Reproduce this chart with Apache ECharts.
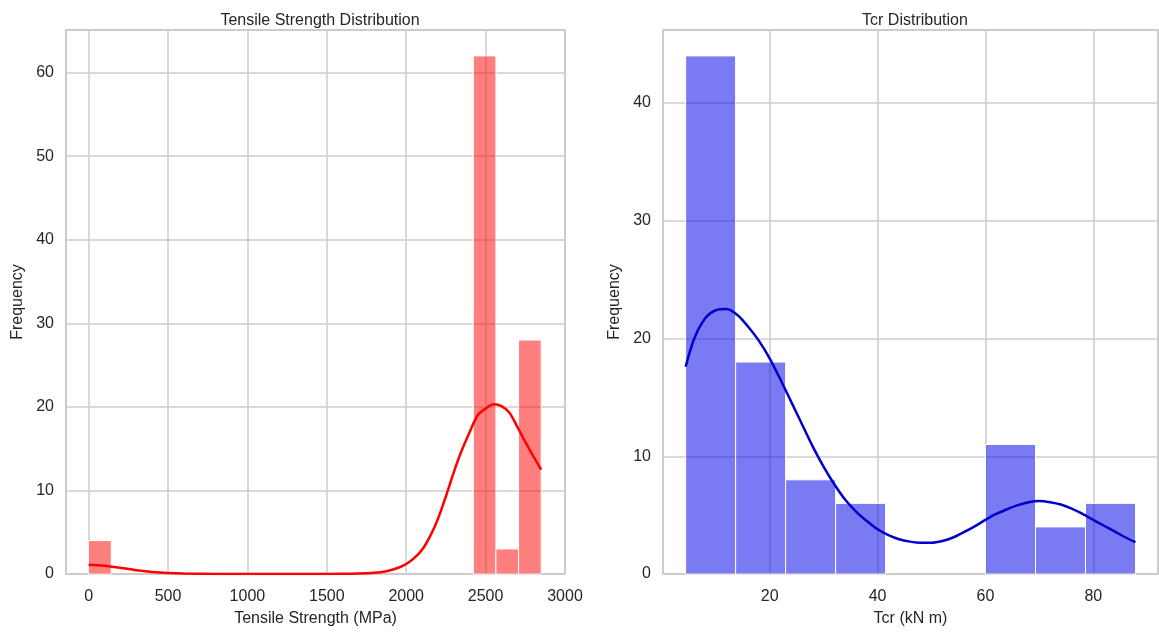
<!DOCTYPE html>
<html>
<head>
<meta charset="utf-8">
<title>Tensile Strength / Tcr Distribution</title>
<script src="https://cdn.jsdelivr.net/npm/echarts@6/dist/echarts.min.js"></script>
<style>
	html, body { margin: 0; padding: 0; background: #ffffff; }
	#chart { width: 1159px; height: 633px; }
</style>
</head>
<body>
<div id="chart"></div>
<script>
// 抗拉强度直方图 (20 bins)
var tsBinEdges = [0, 142.5, 285, 427.5, 570, 712.5, 855, 997.5, 1140, 1282.5, 1425,
	1567.5, 1710, 1852.5, 1995, 2137.5, 2280, 2422.5, 2565, 2707.5, 2850];
var tsCounts = [4, 0, 0, 0, 0, 0, 0, 0, 0, 0, 0, 0, 0, 0, 0, 0, 0, 62, 3, 28];
// 抗拉强度 KDE 曲线
var tsKdeX = [0, 100, 200, 300, 400, 500, 600, 800, 1000, 1200, 1400, 1600, 1700, 1800, 1850,
	1900, 1950, 2000, 2050, 2100, 2150, 2200, 2250, 2300, 2350, 2400, 2450, 2500, 2550,
	2600, 2650, 2700, 2750, 2800, 2850];
var tsKdeY = [1.1, 1.0, 0.75, 0.45, 0.25, 0.12, 0.05, 0.01, 0, 0, 0, 0.02, 0.06, 0.15, 0.25,
	0.45, 0.75, 1.2, 1.9, 2.9, 4.5, 6.6, 9.3, 12.2, 14.8, 17.0, 19.0, 19.8, 20.3,
	20.1, 19.3, 17.6, 15.8, 14.1, 12.5];
var tsTicks = [0, 500, 1000, 1500, 2000, 2500, 3000];

// Tcr 直方图 (9 bins)
var tcrBinEdges = [4.4, 13.67, 22.94, 32.21, 41.48, 50.75, 60.02, 69.29, 78.56, 87.83];
var tcrCounts = [44, 18, 8, 6, 0, 0, 11, 4, 6];
// Tcr KDE 曲线
var tcrKdeX = [4.4, 6, 8, 10, 12, 14, 16, 18, 20, 22, 24, 26, 28, 30, 32, 34, 36, 38, 40, 42,
	44, 46, 48, 50, 52, 54, 56, 58, 60, 62, 64, 66, 68, 70, 72, 74, 76, 78, 80, 82, 84, 86, 87.83];
var tcrKdeY = [17.6, 20.0, 21.7, 22.4, 22.5, 22.0, 21.0, 19.8, 18.3, 16.5, 14.6, 12.7, 10.8, 9.1,
	7.6, 6.3, 5.3, 4.5, 3.8, 3.3, 2.95, 2.75, 2.65, 2.65, 2.8, 3.1, 3.55, 4.05, 4.6, 5.1, 5.5, 5.85,
	6.1, 6.2, 6.1, 5.9, 5.55, 5.1, 4.6, 4.1, 3.6, 3.1, 2.7];
var tcrTicks = [20, 40, 60, 80];

var FONT = '"Liberation Sans", Arial, sans-serif';
var TEXT_COLOR = '#262626';
var GRID_COLOR = '#cccccc';

function binData(edges, counts) {
	var out = [];
	for (var i = 0; i < counts.length; i++) {
		if (counts[i] > 0) {
			out.push([edges[i], edges[i + 1], counts[i]]);
		}
	}
	return out;
}

function pairs(xs, ys) {
	return xs.map(function(x, i) {
		return [x, ys[i]];
	});
}

function histRender(fill) {
	return function(params, api) {
		var topLeft = api.coord([api.value(0), api.value(2)]);
		var bottomRight = api.coord([api.value(1), 0]);
		return {
			type : 'rect',
			shape : {
				x : topLeft[0],
				y : topLeft[1],
				width : bottomRight[0] - topLeft[0],
				height : bottomRight[1] - topLeft[1]
			},
			style : {
				fill : fill,
				stroke : '#ffffff',
				lineWidth : 1
			}
		};
	};
}

function xAxisOpt(idx, name, min, max, ticks) {
	return {
		type : 'value',
		gridIndex : idx,
		min : min,
		max : max,
		name : name,
		nameLocation : 'middle',
		nameGap : 37,
		nameTextStyle : { fontFamily : FONT, fontSize : 16, color : TEXT_COLOR },
		axisLine : { show : false },
		axisTick : { show : false, customValues : ticks },
		axisLabel : {
			customValues : ticks,
			margin : 15,
			fontFamily : FONT,
			fontSize : 16,
			color : TEXT_COLOR,
			formatter : function(v) { return String(v); }
		},
		splitLine : { show : true, lineStyle : { color : GRID_COLOR, width : 1.5 } }
	};
}

function yAxisOpt(idx, max) {
	return {
		type : 'value',
		gridIndex : idx,
		min : 0,
		max : max,
		interval : 10,
		name : 'Frequency',
		nameLocation : 'middle',
		nameGap : 40,
		nameTextStyle : { fontFamily : FONT, fontSize : 16, color : TEXT_COLOR },
		axisLine : { show : false },
		axisTick : { show : false },
		axisLabel : {
			showMaxLabel : false,
			margin : 12,
			fontFamily : FONT,
			fontSize : 16,
			color : TEXT_COLOR
		},
		splitLine : { show : true, lineStyle : { color : GRID_COLOR, width : 1.5 } }
	};
}

var chart = echarts.init(document.getElementById('chart'));
chart.setOption({
	animation : false,
	backgroundColor : '#ffffff',
	title : [{
		text : 'Tensile Strength Distribution',
		left : 315,
		top : 8,
		textAlign : 'center',
		textStyle : { fontFamily : FONT, fontSize : 16, fontWeight : 'normal', color : TEXT_COLOR }
	}, {
		text : 'Tcr Distribution',
		left : 910,
		top : 8,
		textAlign : 'center',
		textStyle : { fontFamily : FONT, fontSize : 16, fontWeight : 'normal', color : TEXT_COLOR }
	}],
	grid : [{
		left : 66,
		right : 594,
		top : 30,
		bottom : 59,
		show : true,
		borderColor : GRID_COLOR,
		borderWidth : 2
	}, {
		left : 663,
		right : 1,
		top : 30,
		bottom : 59,
		show : true,
		borderColor : GRID_COLOR,
		borderWidth : 2
	}],
	xAxis : [
		xAxisOpt(0, 'Tensile Strength (MPa)', -142.5, 3000, tsTicks),
		xAxisOpt(1, 'Tcr (kN m)', 0.2, 92, tcrTicks)
	],
	yAxis : [
		yAxisOpt(0, 65.1),
		yAxisOpt(1, 46.2)
	],
	series : [{
		type : 'custom',
		xAxisIndex : 0,
		yAxisIndex : 0,
		renderItem : histRender('rgba(255, 0, 0, 0.5)'),
		encode : { x : [0, 1], y : 2 },
		data : binData(tsBinEdges, tsCounts),
		z : 2
	}, {
		type : 'line',
		xAxisIndex : 0,
		yAxisIndex : 0,
		smooth : 0.3,
		showSymbol : false,
		lineStyle : { color : '#ff0000', width : 2.5 },
		data : pairs(tsKdeX, tsKdeY),
		z : 3
	}, {
		type : 'custom',
		xAxisIndex : 1,
		yAxisIndex : 1,
		renderItem : histRender('rgba(0, 0, 232, 0.52)'),
		encode : { x : [0, 1], y : 2 },
		data : binData(tcrBinEdges, tcrCounts),
		z : 2
	}, {
		type : 'line',
		xAxisIndex : 1,
		yAxisIndex : 1,
		smooth : 0.3,
		showSymbol : false,
		lineStyle : { color : '#0000cd', width : 2.5 },
		data : pairs(tcrKdeX, tcrKdeY),
		z : 3
	}]
});
</script>
</body>
</html>
